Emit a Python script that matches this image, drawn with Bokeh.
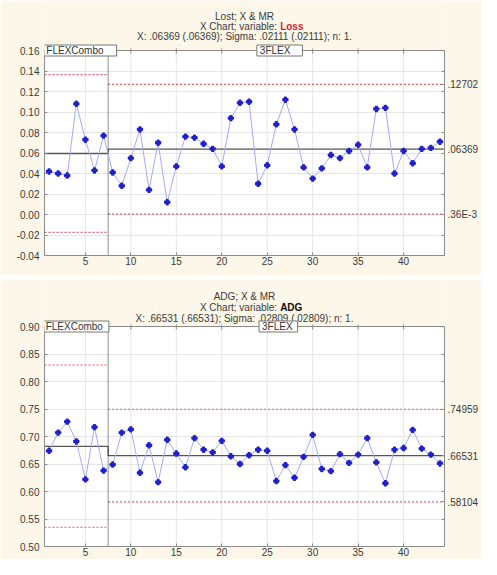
from bokeh.plotting import figure
from bokeh.layouts import column
from bokeh.models import LinearAxis, FixedTicker, Label, PrintfTickFormatter, Range1d
from bokeh.embed import file_html
from bokeh.resources import INLINE

# ---------------- data ----------------
obs = list(range(1, 45))
loss = [0.042, 0.040, 0.038, 0.108, 0.073, 0.043, 0.077, 0.041, 0.028, 0.055,
        0.083, 0.024, 0.070, 0.012, 0.047, 0.076, 0.075, 0.069, 0.064, 0.047,
        0.094, 0.109, 0.110, 0.030, 0.048, 0.088, 0.112, 0.083, 0.046, 0.035,
        0.045, 0.058, 0.055, 0.062, 0.068, 0.046, 0.103, 0.104, 0.040, 0.062,
        0.050, 0.064, 0.065, 0.071]
adg = [0.674, 0.707, 0.727, 0.691, 0.622, 0.717, 0.638, 0.649, 0.707, 0.713,
       0.634, 0.684, 0.617, 0.694, 0.669, 0.644, 0.697, 0.676, 0.671, 0.692,
       0.664, 0.650, 0.666, 0.676, 0.674, 0.619, 0.648, 0.625, 0.663, 0.703,
       0.641, 0.637, 0.668, 0.652, 0.667, 0.697, 0.653, 0.615, 0.676, 0.679,
       0.712, 0.678, 0.667, 0.651]

phase_names = ["FLEXCombo", "3FLEX"]
phase_bounds = [0.5, 7.5, 44.5]

loss_cl = [0.0595, 0.06369]
loss_ucl = [0.1365, 0.12702]
loss_lcl = [-0.0175, 0.00036]
loss_right_labels = [".36E-3", ".06369", ".12702"]

adg_cl = [0.682, 0.66531]
adg_ucl = [0.830, 0.74959]
adg_lcl = [0.535, 0.58104]
adg_right_labels = [".58104", ".66531", ".74959"]

x_ticks = [5, 10, 15, 20, 25, 30, 35, 40]
loss_y_ticks = [-0.04, -0.02, 0.0, 0.02, 0.04, 0.06, 0.08, 0.10, 0.12, 0.14, 0.16]
adg_y_ticks = [0.50, 0.55, 0.60, 0.65, 0.70, 0.75, 0.80, 0.85, 0.90]

# ---------------- style ----------------
CREAM = "#fcf7e9"
FONT = "Liberation Sans"
AX = "#8c8c8c"
TXT = "#3a3a3a"
GRID = "#e6e6e6"


def make_chart(values, cl, ucl, lcl, right_labels, yticks, title1, var_name,
               var_color, stats, height, title_px, bottom_px, title_offs, tabs):
    ymin, ymax = yticks[0], yticks[-1]
    plot_px = height - title_px - bottom_px
    per_px = (ymax - ymin) / plot_px
    ytop = ymax + title_px * per_px
    x0, x1 = phase_bounds[0], phase_bounds[-1]

    p = figure(width=481, height=height, x_range=Range1d(x0, x1),
               y_range=Range1d(ymin, ytop), output_backend="svg",
               toolbar_location=None, min_border_left=44, min_border_right=36,
               min_border_top=0, min_border_bottom=bottom_px,
               background_fill_color=CREAM, border_fill_color=CREAM,
               outline_line_color=None)

    xa = p.below[0]
    xa.ticker = FixedTicker(ticks=x_ticks)
    ya = p.left[0]
    ya.ticker = FixedTicker(ticks=yticks)
    ya.formatter = PrintfTickFormatter(format="%.2f")
    ya.bounds = (ymin, ymax)
    for a in (xa, ya):
        a.axis_line_color = AX
        a.major_tick_line_color = AX
        a.major_tick_in = 3
        a.major_tick_out = 0
        a.minor_tick_line_color = None
        a.major_label_text_font = FONT
        a.major_label_text_font_size = "10px"
        a.major_label_text_color = TXT
    xa.major_label_standoff = 1
    ya.major_label_standoff = 5

    p.xgrid.grid_line_color = None
    p.ygrid.grid_line_color = GRID

    # right axis with control-limit labels
    rvals = sorted([lcl[1], cl[1], ucl[1]])
    ra = LinearAxis(ticker=FixedTicker(ticks=rvals, minor_ticks=yticks),
                    major_label_overrides={v: s for v, s in zip(rvals, right_labels)},
                    bounds=(ymin, ymax))
    ra.axis_line_color = AX
    ra.major_tick_line_color = AX
    ra.minor_tick_line_color = AX
    ra.major_tick_in = 3
    ra.major_tick_out = 0
    ra.minor_tick_in = 3
    ra.minor_tick_out = 0
    ra.major_label_standoff = 3
    ra.major_label_text_font = FONT
    ra.major_label_text_font_size = "10px"
    ra.major_label_text_color = TXT
    p.add_layout(ra, "right")

    # white plot area
    p.quad(left=[x0], right=[x1], bottom=[ymin], top=[ymax], fill_color="white",
           line_color=None, level="image")
    # vertical grid lines
    p.segment(x0=x_ticks, y0=[ymin] * len(x_ticks), x1=x_ticks, y1=[ymax] * len(x_ticks),
              line_color=GRID, line_width=1, level="underlay")
    # plot-area border
    p.quad(left=[x0], right=[x1], bottom=[ymin], top=[ymax], fill_alpha=0,
           line_color=AX, line_width=1)
    # top tick marks
    p.segment(x0=x_ticks, y0=[ymax - 3 * per_px] * len(x_ticks), x1=x_ticks,
              y1=[ymax + 2 * per_px] * len(x_ticks), line_color=AX, line_width=1)

    # control limits per phase
    for i in range(2):
        a0, a1 = phase_bounds[i], phase_bounds[i + 1]
        p.line([a0, a1], [ucl[i], ucl[i]], line_color="#e8566a", line_dash="2 2", line_width=1.2)
        p.line([a0, a1], [lcl[i], lcl[i]], line_color="#e8566a", line_dash="2 2", line_width=1.2)
    p.line([phase_bounds[0], phase_bounds[1], phase_bounds[1], phase_bounds[2]],
           [cl[0], cl[0], cl[1], cl[1]], line_color="#555555", line_width=1.3)

    # phase separator
    p.line([phase_bounds[1], phase_bounds[1]], [ymin, ymax], line_color="#222222",
           line_dash="1 1", line_width=1)

    # data
    p.line(obs, values, line_color="#a3abf5", line_width=1)
    p.scatter(obs, values, marker="plus", size=5, line_width=1.4, color="#2020cc")

    # titles
    o1, o2, o3 = title_offs
    p.add_layout(Label(x=22.5, y=ymax, y_offset=o1, text=title1, text_align="center",
                       text_baseline="middle", text_font=FONT, text_font_size="10px",
                       text_color=TXT))
    p.add_layout(Label(x=26.2, y=ymax, y_offset=o2, x_offset=-1, text="X Chart; variable:",
                       text_align="right", text_baseline="middle", text_font=FONT,
                       text_font_size="10px", text_color=TXT))
    p.add_layout(Label(x=26.2, y=ymax, y_offset=o2, x_offset=2, text=var_name,
                       text_align="left", text_baseline="middle", text_font=FONT,
                       text_font_size="10px", text_font_style="bold", text_color=var_color))
    p.add_layout(Label(x=22.5, y=ymax, y_offset=o3, text=stats, text_align="center",
                       text_baseline="middle", text_font=FONT, text_font_size="10px",
                       text_color=TXT))

    # phase tabs
    for name, (bx, rpad) in zip(phase_names, tabs):
        p.add_layout(Label(x=bx, y=ymax, x_offset=3, text=name,
                           text_align="left", text_baseline="middle", text_font=FONT,
                           text_font_size="10px", text_color="#333333",
                           background_fill_color="white", border_line_color="#777777",
                           padding=dict(left=3, right=rpad, top=0, bottom=0)))
    return p


top = make_chart(loss, loss_cl, loss_ucl, loss_lcl, loss_right_labels, loss_y_ticks,
                 "Lost; X & MR", "Loss", "#e0202a",
                 "X: .06369 (.06369); Sigma: .02111 (.02111); n: 1.",
                 275, 50, 20, (34, 24, 14),
                 [(0.04, 13), (23.53, 12)])
bottom = make_chart(adg, adg_cl, adg_ucl, adg_lcl, adg_right_labels, adg_y_ticks,
                    "ADG; X & MR", "ADG", "#111111",
                    "X: .66531 (.66531); Sigma: .02809 (.02809); n: 1.",
                    280, 47, 13, (30, 19, 8),
                    [(-0.03, 6), (23.77, 5)])

layout = column(top, bottom, spacing=4)
open("out.html", "w").write(file_html(layout, INLINE))
